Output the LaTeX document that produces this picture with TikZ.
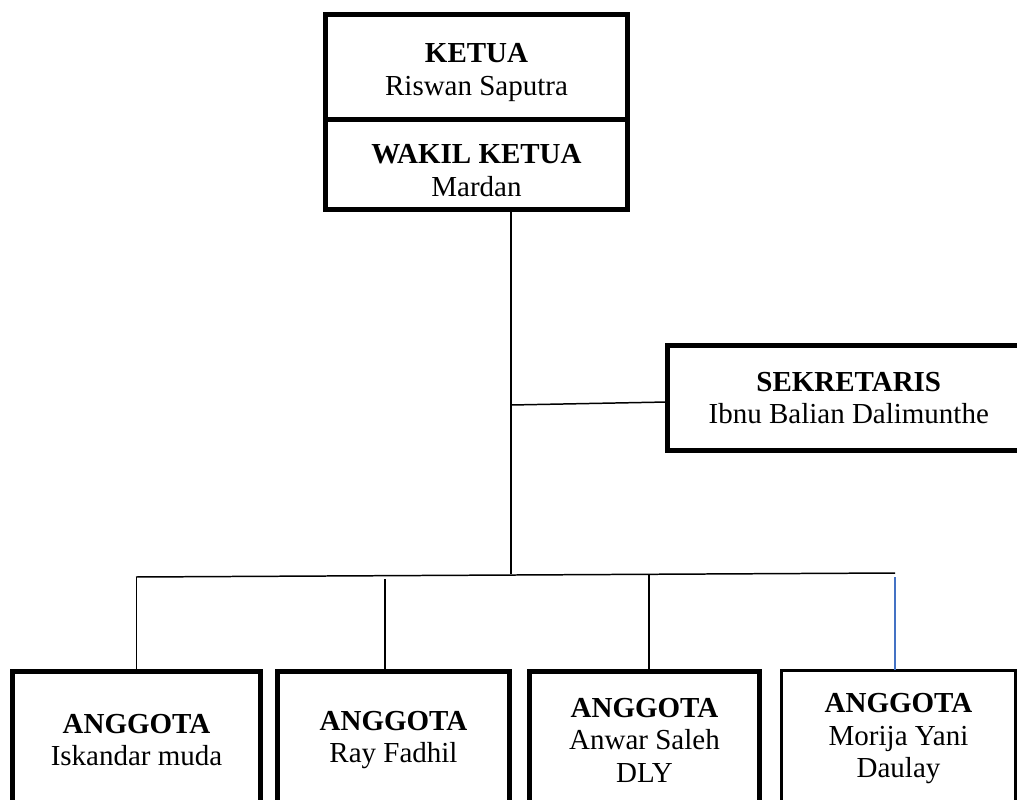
\documentclass[tikz,border=0pt]{standalone}
\usepackage{fontspec}
\setmainfont{Liberation Serif}
\usetikzlibrary{positioning}
\definecolor{wordblue}{HTML}{4472C4}

\begin{document}
\begin{tikzpicture}[x=0.02cm,y=-0.02cm,
  jabatan/.style={draw,line width=2.8pt,align=center,outer sep=0pt,inner sep=0pt,
    font=\fontsize{16.5}{18.5}\selectfont},
  garis/.style={line width=0.85pt}]

\useasboundingbox (0,0) rectangle (1017,800);
\clip (0,0) rectangle (1017,800);

% pengurus inti
\node[jabatan,text height=1.26cm,minimum width=6.04cm,minimum height=2.11cm] (ketua) at (476.5,67) {\textbf{KETUA}\\Riswan Saputra};
\node[jabatan,text height=1.28cm,minimum width=6.04cm,minimum height=1.79cm,below=0pt of ketua] (wakil) {\textbf{WAKIL KETUA}\\Mardan};

\node[jabatan,minimum width=7.25cm,minimum height=2.1cm] (sek) at (848.75,398) {\textbf{SEKRETARIS}\\Ibnu Balian Dalimunthe};

% anggota
\node[jabatan,minimum width=4.96cm,minimum height=2.75cm] (a1) at (136.5,740) {\textbf{ANGGOTA}\\Iskandar muda};
\node[jabatan,minimum width=4.64cm,minimum height=2.75cm] (a2) at (393.5,740) {\textbf{ANGGOTA}\\Ray Fadhil};
\node[jabatan,minimum width=4.6cm,minimum height=2.75cm] (a3) at (644.5,740) {\textbf{ANGGOTA}\\Anwar Saleh\\DLY};
\node[jabatan,line width=1.7pt,minimum width=4.68cm,minimum height=2.75cm] (a4) at (898.5,739) {\textbf{ANGGOTA}\\Morija Yani\\Daulay};

% garis
\coordinate (tengah) at (511,574);
\coordinate (cabang) at (511,405);
\coordinate (kiri) at (136,577);
\coordinate (kanan) at (895,573);

\draw[garis] (wakil.south -| tengah) -- (tengah);
\draw[garis] (cabang) -- ([yshift=-0.08cm]sek.west);
\draw[garis] (kiri) -- (kanan);

\draw[garis] (a1.north) -- (a1.north |- kiri);
\draw[garis] ([xshift=-0.17cm]a2.north) -- ++(0,-92);
\draw[garis] ([xshift=0.09cm]a3.north) -- ++(0,-97);
\draw[garis,wordblue] ([xshift=-0.07cm]a4.north) -- ++(0,-93);
\end{tikzpicture}
\end{document}
